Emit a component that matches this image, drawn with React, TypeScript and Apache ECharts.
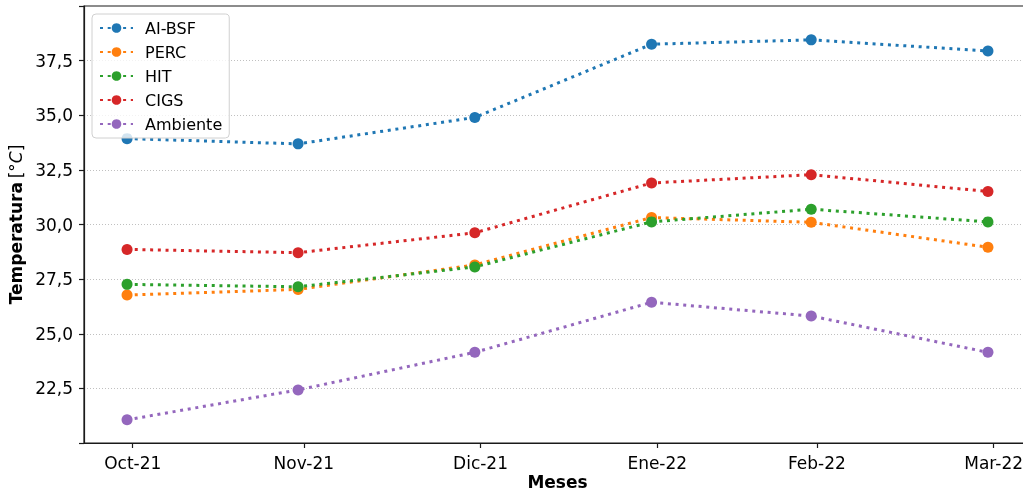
import { useRef, useEffect } from "react"
import * as echarts from "echarts"

// measurement dates (month ends) and x tick positions
const dates = ["2021-10-31", "2021-11-30", "2021-12-31", "2022-01-31", "2022-02-28", "2022-03-31"]
const tickDates = ["2021-11-01", "2021-12-01", "2022-01-01", "2022-02-01", "2022-03-01", "2022-04-01"]
const tickLabels = ["Oct-21", "Nov-21", "Dic-21", "Ene-22", "Feb-22", "Mar-22"]

const seriesNames = ["AI-BSF", "PERC", "HIT", "CIGS", "Ambiente"]
const aiBsf = [33.93, 33.69, 34.9, 38.25, 38.45, 37.94]
const perc = [26.77, 27.03, 28.15, 30.32, 30.1, 28.96]
const hit = [27.26, 27.15, 28.06, 30.12, 30.7, 30.12]
const cigs = [28.86, 28.71, 29.62, 31.9, 32.28, 31.51]
const ambiente = [21.06, 22.43, 24.15, 26.44, 25.81, 24.15]

const colors = ["#1f77b4", "#ff7f0e", "#2ca02c", "#d62728", "#9467bd"]

const dayOf = (s: string) =>
  Date.UTC(+s.slice(0, 4), +s.slice(5, 7) - 1, +s.slice(8, 10)) / 86400000

const dataDays = dates.map(dayOf)
const tickDays = tickDates.map(dayOf)

const fmtNum = (v: number) => (v === 20 || v === 40 ? "" : v.toFixed(1).replace(".", ","))

export default function App() {
  const chartRef = useRef<HTMLDivElement>(null)

  useEffect(() => {
    if (!chartRef.current) return
    const instance = echarts.init(chartRef.current, undefined, { renderer: "svg" })
    const values = [aiBsf, perc, hit, cigs, ambiente]
    const span = dataDays[dataDays.length - 1] - dataDays[0]
    const pad = span * 0.05
    const axisColor = "#1a1a1a"

    instance.setOption({
      animation: false,
      textStyle: { fontFamily: "DejaVu Sans" },
      grid: {
        left: 84,
        top: 6,
        right: -8,
        bottom: 49,
        containLabel: false,
        outerBoundsMode: "none",
        show: true,
        borderColor: axisColor,
        borderWidth: 1.2,
      },
      legend: {
        orient: "vertical",
        left: 92,
        top: 14,
        padding: [6, 7, 6, 7],
        itemWidth: 33,
        itemHeight: 12,
        itemGap: 8,
        borderColor: "#d0d0d0",
        borderWidth: 1,
        borderRadius: 4,
        backgroundColor: "rgba(255,255,255,0.8)",
        textStyle: { fontSize: 16, color: "#000", lineHeight: 16, padding: [0, 0, 0, 7] },
        data: seriesNames,
      },
      xAxis: {
        type: "value",
        min: dataDays[0] - pad,
        max: dataDays[dataDays.length - 1] + pad,
        name: "Meses",
        nameLocation: "middle",
        nameGap: 30,
        nameMoveOverlap: false,
        nameTextStyle: { fontSize: 17, lineHeight: 17, fontWeight: "bold", color: "#000" },
        axisLine: { show: true, lineStyle: { color: axisColor, width: 1.2 } },
        axisTick: {
          show: true,
          customValues: tickDays,
          length: 5,
          lineStyle: { color: axisColor, width: 1.2 },
        },
        axisLabel: {
          customValues: tickDays,
          margin: 11,
          fontSize: 17,
          color: "#000",
          formatter: (v: number) => {
            const i = tickDays.findIndex((d) => Math.abs(d - v) < 0.01)
            return i >= 0 ? tickLabels[i] : ""
          },
        },
        splitLine: { show: false },
      },
      yAxis: {
        type: "value",
        min: 20,
        max: 40,
        interval: 2.5,
        name: "{b|Temperatura} {n|[°}{i|C}{n|]}",
        nameLocation: "middle",
        nameRotate: 90,
        nameGap: 58,
        nameTextStyle: {
          rich: {
            b: { fontSize: 17, fontWeight: "bold", color: "#000" },
            n: { fontSize: 17, color: "#000" },
            i: { fontSize: 17, fontStyle: "italic", color: "#000" },
          },
        },
        axisLine: { show: true, lineStyle: { color: axisColor, width: 1.2 } },
        axisTick: { show: true, length: 5, lineStyle: { color: axisColor, width: 1.2 } },
        axisLabel: { fontSize: 17, color: "#000", margin: 11, formatter: fmtNum },
        splitLine: {
          show: true,
          showMinLine: false,
          showMaxLine: false,
          lineStyle: { color: "#b0b0b0", width: 0.8, type: [1, 2] },
        },
      },
      series: seriesNames.map((name, si) => ({
        name,
        type: "line",
        symbol: "circle",
        symbolSize: 11,
        itemStyle: { color: colors[si] },
        lineStyle: { color: colors[si], width: 3, type: [3, 4.7], cap: "butt" },
        data: dataDays.map((d, i) => [d, values[si][i]]),
      })),
    })

    return () => {
      instance.dispose()
    }
  }, [])

  return (
    <div
      ref={chartRef}
      style={{ position: "fixed", left: 0, top: 0, width: 1023, height: 492 }}
    />
  )
}
